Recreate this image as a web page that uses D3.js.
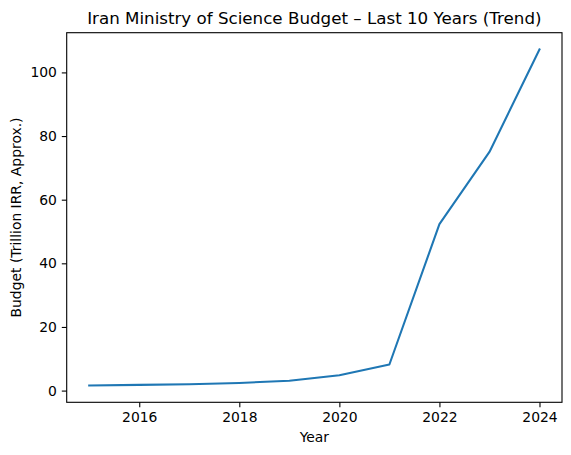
<!DOCTYPE html>
<html>
<head>
<meta charset="utf-8">
<script src="https://cdn.jsdelivr.net/npm/d3@7"></script>
<style>
  body { margin: 0; background: #fff; }
  text { font-family: "DejaVu Sans", sans-serif; fill: #000; }
</style>
</head>
<body>
<svg id="chart" width="571" height="455"></svg>
<script>
// values
var years = [2015, 2016, 2017, 2018, 2019, 2020, 2021, 2022, 2023, 2024];
var budget = [1.6, 1.8, 2.0, 2.4, 3.1, 4.8, 8.2, 52.3, 75.0, 107.2];
var xTicks = [2016, 2018, 2020, 2022, 2024];
var yTicks = [0, 20, 40, 60, 80, 100];

var svg = d3.select('#chart');
var box = { left: 66.7, right: 562, top: 32.7, bottom: 402.3 };

// matplotlib style 5% margins
var xPad = (d3.max(years) - d3.min(years)) * 0.05;
var yPad = (d3.max(budget) - d3.min(budget)) * 0.05;

var x = d3.scaleLinear()
    .domain([d3.min(years) - xPad, d3.max(years) + xPad])
    .range([box.left, box.right]);
var y = d3.scaleLinear()
    .domain([d3.min(budget) - yPad, d3.max(budget) + yPad])
    .range([box.bottom, box.top]);

var xAxis = svg.append('g')
    .attr('transform', 'translate(0,' + box.bottom + ')')
    .call(d3.axisBottom(x).tickValues(xTicks).tickFormat(d3.format('d')).tickSize(4.9).tickPadding(4.9));
var yAxis = svg.append('g')
    .attr('transform', 'translate(' + box.left + ',0)')
    .call(d3.axisLeft(y).tickValues(yTicks).tickSize(4.9).tickPadding(4.9));

[xAxis, yAxis].forEach(function(g) {
    g.select('.domain').remove();
    g.selectAll('line').attr('stroke', '#000').attr('stroke-width', 1.1);
    g.selectAll('text').style('font-size', '13.9px').style('font-family', '"DejaVu Sans", sans-serif');
});

var line = d3.line()
    .x(function(d, i) { return x(years[i]); })
    .y(function(d) { return y(d); });

svg.append('path')
    .datum(budget)
    .attr('d', line)
    .attr('fill', 'none')
    .attr('stroke', '#1f77b4')
    .attr('stroke-width', 2.08)
    .attr('stroke-linejoin', 'round')
    .attr('stroke-linecap', 'square');

// frame
svg.append('rect')
    .attr('x', box.left)
    .attr('y', box.top)
    .attr('width', box.right - box.left)
    .attr('height', box.bottom - box.top)
    .attr('fill', 'none')
    .attr('stroke', '#000')
    .attr('stroke-width', 1.1);

svg.append('text')
    .attr('x', (box.left + box.right) / 2)
    .attr('y', 24.4)
    .attr('text-anchor', 'middle')
    .style('font-size', '16.7px')
    .text('Iran Ministry of Science Budget – Last 10 Years (Trend)');

svg.append('text')
    .attr('x', (box.left + box.right) / 2)
    .attr('y', 442)
    .attr('text-anchor', 'middle')
    .style('font-size', '13.9px')
    .text('Year');

svg.append('text')
    .attr('transform', 'translate(21,' + (box.top + box.bottom) / 2 + ') rotate(-90)')
    .attr('text-anchor', 'middle')
    .style('font-size', '13.9px')
    .text('Budget (Trillion IRR, Approx.)');
</script>
</body>
</html>
